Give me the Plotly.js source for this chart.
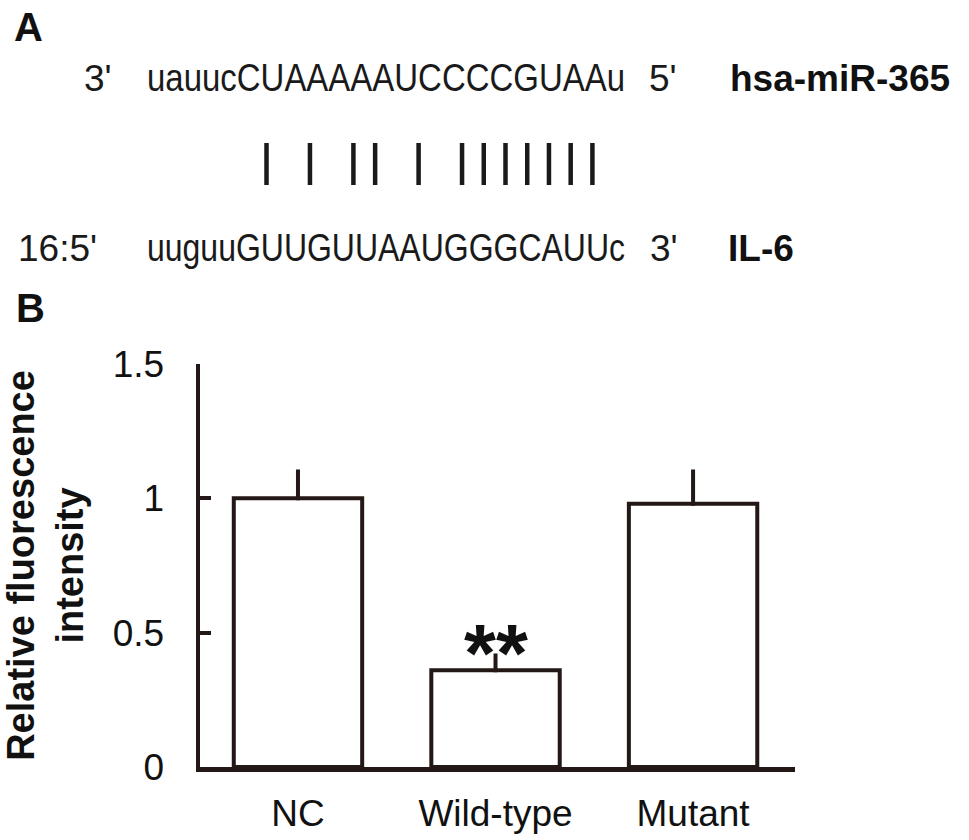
<!DOCTYPE html>
<html>
<head>
<meta charset="utf-8">
<script src="https://cdn.plot.ly/plotly-3.0.1.min.js"></script>
<style>html,body{margin:0;padding:0;background:#fff;}#chart{width:969px;height:840px;}</style>
</head>
<body>
<div id="chart"></div>
<script>
// ---- data ----
const categories = ['NC', 'Wild-type', 'Mutant'];
const values = [1.0, 0.36, 0.98];
const errorsUp = [0.10, 0.055, 0.12];
const yTickVals = [0, 0.5, 1, 1.5];
const yTickText = ['0', '0.5', '1', '1.5'];
const seqTop = 'uauucCUAAAAAUCCCCGUAAu';
const seqBottom = 'uuguuGUUGUUAAUGGGCAUUc';
const pairedPositions = [5, 7, 9, 10, 12, 14, 15, 16, 17, 18, 19, 20];
const topLabels = {left: "3'", right: "5'", name: 'hsa-miR-365'};
const bottomLabels = {left: "16:5'", right: "3'", name: 'IL-6'};
const significance = '**';

// ---- layout helpers ----
const W = 969, H = 840;
const px = x => x / W;
const py = y => 1 - y / H;
const ink = '#231815';
const txt = '#1a1a1a';
const seqFont = {family: 'Liberation Sans, Arial, sans-serif', size: 38, color: txt};
const plainFont = {family: 'Liberation Sans, Arial, sans-serif', size: 37, color: txt};
const boldFont = {family: 'Liberation Sans, Arial, sans-serif', size: 37, color: '#111', weight: 'bold'};
const panelFont = {family: 'Liberation Sans, Arial, sans-serif', size: 40, color: '#111', weight: 'bold'};

const seqX0 = 147, seqX1 = 625;
const seqWidth = seqX1 - seqX0;
const pitch = seqWidth / seqTop.length;
const charX = i => seqX0 + pitch * (i + 0.5);

const annotations = [];
function ann(text, x, y, font, xanchor, width) {
  const a = {text: text, x: px(x), y: py(y), xref: 'paper', yref: 'paper',
    xanchor: xanchor || 'left', yanchor: 'middle', showarrow: false, font: font};
  if (width) { a.width = width; a.borderpad = 0; }
  annotations.push(a);
}
ann('<b>A</b>', 12, 27, panelFont);
ann('<b>B</b>', 14, 308, panelFont);
const line1Y = 78, line3Y = 248;
ann(topLabels.left, 82, line1Y, plainFont);
ann(topLabels.right, 647, line1Y, plainFont);
ann('<b>' + topLabels.name + '</b>', 728, line1Y, boldFont);
ann(bottomLabels.left, 16, line3Y, plainFont);
ann(bottomLabels.right, 648, line3Y, plainFont);
ann('<b>' + bottomLabels.name + '</b>', 726, line3Y, boldFont);
ann(seqTop, (seqX0 + seqX1) / 2, line1Y, seqFont, 'center', seqWidth);
ann(seqBottom, (seqX0 + seqX1) / 2, line3Y, seqFont, 'center', seqWidth);

const shapes = pairedPositions.map(i => ({
  type: 'line', xref: 'paper', yref: 'paper',
  x0: px(charX(i)), x1: px(charX(i)), y0: py(143), y1: py(185),
  line: {color: '#1a1a1a', width: 4.5}
}));

// significance marker tied to the data
annotations.push({
  text: '<b>' + significance + '</b>', x: categories[1], y: values[1] + errorsUp[1],
  xref: 'x', yref: 'y', xanchor: 'center', yanchor: 'bottom', showarrow: false,
  font: {family: 'Liberation Sans, Arial, sans-serif', size: 82, color: '#111'}, yshift: -44
});

const trace = {
  type: 'bar', x: categories, y: values, width: 0.65,
  marker: {color: '#ffffff', line: {color: ink, width: 4}},
  error_y: {type: 'data', symmetric: false, array: errorsUp, arrayminus: [0, 0, 0],
            color: ink, thickness: 4, width: 2},
  hoverinfo: 'none'
};

const layout = {
  width: W, height: H, margin: {l: 0, r: 0, t: 0, b: 0},
  paper_bgcolor: '#fff', plot_bgcolor: '#fff', showlegend: false,
  xaxis: {domain: [px(200), px(795)], range: [-0.496, 2.516], showline: true, linewidth: 4.5,
    linecolor: ink, ticks: '', showgrid: false, zeroline: false, fixedrange: true,
    tickfont: {family: 'Liberation Sans, Arial, sans-serif', size: 37, color: '#111'},
    ticklabelstandoff: 10, automargin: false},
  yaxis: {domain: [py(767), py(364)], range: [0, 1.5], showline: true, linewidth: 4.5,
    linecolor: ink, ticks: 'inside', ticklen: 11, tickwidth: 4, tickcolor: ink,
    tickvals: yTickVals, ticktext: yTickText, showgrid: false, zeroline: false, fixedrange: true,
    tickfont: {family: 'Liberation Sans, Arial, sans-serif', size: 37, color: '#111'},
    ticklabelstandoff: 24, automargin: false,
    title: {text: '<b>Relative fluorescence<br>intensity</b>', standoff: 24,
      font: {family: 'Liberation Sans, Arial, sans-serif', size: 38, color: '#111'}}},
  annotations: annotations, shapes: shapes
};

Plotly.newPlot('chart', [trace], layout, {displayModeBar: false, staticPlot: true}).then(gd => {
  // the sequences in the reference are set in a condensed face: condense them to their span
  gd.querySelectorAll('text.annotation-text').forEach(t => {
    const s = t.textContent;
    if (s === seqTop || s === seqBottom) {
      const lines = t.querySelectorAll('tspan.line');
      const targets = lines.length ? lines : [t];
      targets.forEach(el => {
        el.setAttribute('textLength', seqWidth);
        el.setAttribute('lengthAdjust', 'spacingAndGlyphs');
      });
    }
  });
});
</script>
</body>
</html>
